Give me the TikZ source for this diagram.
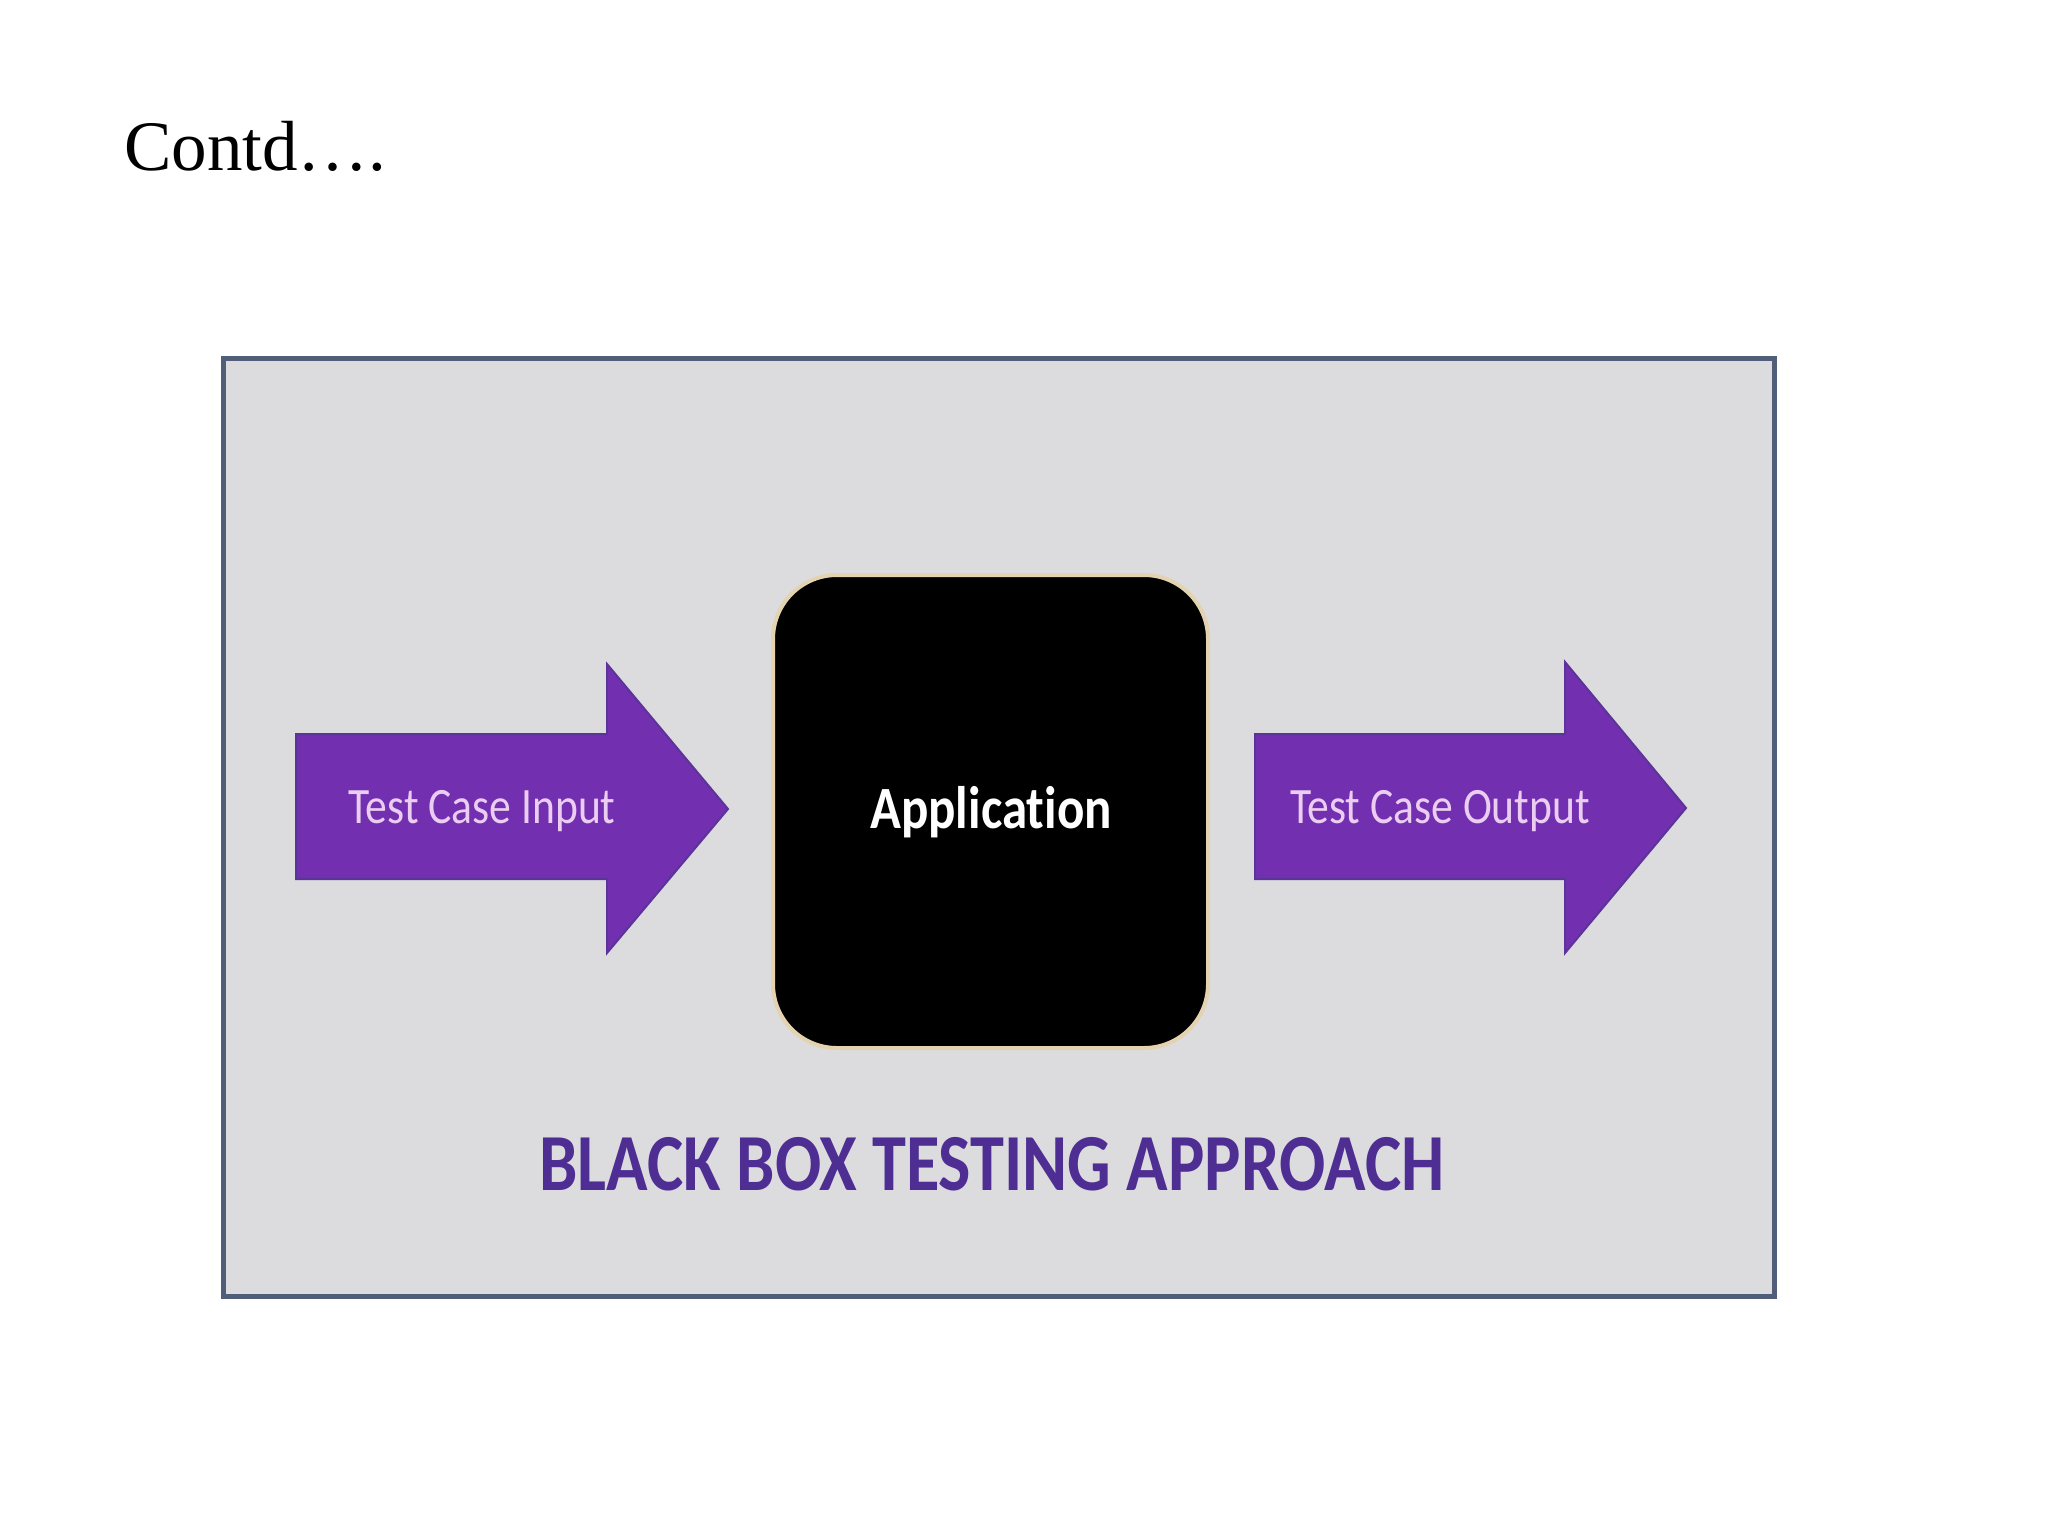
\documentclass[tikz,border=0pt]{standalone}
\usepackage{fontspec}
\setmainfont{Liberation Serif}
\newfontfamily\carlito[Ligatures=NoCommon]{Carlito}
\definecolor{framebg}{HTML}{DCDCDF}
\definecolor{frameline}{HTML}{505E7A}
\definecolor{arrowfill}{HTML}{7230B0}
\definecolor{arrowline}{HTML}{5C3399}
\definecolor{labelcol}{HTML}{EBCDF2}
\definecolor{titlepurple}{HTML}{4F2E94}
\definecolor{rim}{HTML}{E3D3B0}
\tikzset{
  bigarrow/.style={fill=arrowfill, draw=arrowline, line width=1pt, line join=miter},
  arrowlabel/.style={inner sep=0pt, anchor=base, text=labelcol, font=\carlito\fontsize{25.5pt}{30pt}\selectfont},
}
\begin{document}
\begin{tikzpicture}[x=0.5pt,y=-0.5pt]
\useasboundingbox (0,0) rectangle (2048,1536);
\fill[white] (0,0) rectangle (2048,1536);
% title
\node[anchor=base west, inner sep=0pt, font=\fontsize{35.5pt}{40pt}\selectfont] (title) at (124,170) {Contd….};
% frame
\draw[fill=framebg, draw=frameline, line width=2.5pt] (223,358) rectangle (1774,1296);
% left arrow
\draw[bigarrow] (296,734) -- (607,734) -- (607,664) -- (728,809) -- (607,953) -- (607,879) -- (296,879) -- cycle;
\node[arrowlabel] (inp) at (482,823) {\scalebox{0.855}[1]{Test Case Input}};
% black box
\draw[fill=black, draw=rim, line width=2pt, rounded corners=32pt] (773,575) rectangle (1208,1048);
\node[inner sep=0pt, anchor=base, text=white, font=\carlito\bfseries\fontsize{30pt}{34pt}\selectfont] (app) at (991,828) {\scalebox{0.85}[1]{Application}};
% right arrow
\draw[bigarrow] (1255,734) -- (1565,734) -- (1565,662) -- (1686,808) -- (1565,953) -- (1565,879) -- (1255,879) -- cycle;
\node[arrowlabel] (outp) at (1440,823) {\scalebox{0.855}[1]{Test Case Output}};
% caption
\node[inner sep=0pt, anchor=base, text=titlepurple, font=\carlito\bfseries\fontsize{40.5pt}{44pt}\selectfont] (cap) at (992,1190) {\scalebox{0.845}[1]{BLACK BOX TESTING APPROACH}};
\end{tikzpicture}
\end{document}
